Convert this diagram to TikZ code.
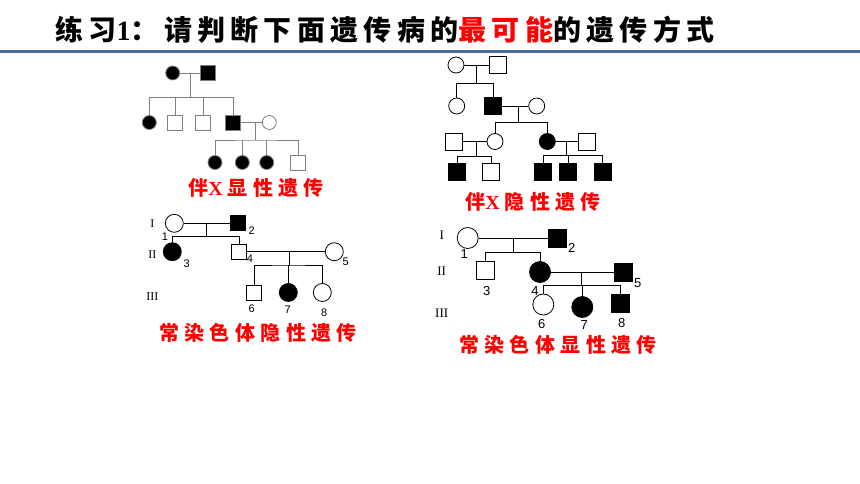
\documentclass[tikz,border=0pt]{standalone}
\usepackage{fontspec}
\setmainfont{Liberation Serif}
\newfontfamily\cjktitle{Noto Sans CJK SC}[LetterSpace=19]
\newfontfamily\cjkwide{Noto Sans CJK SC}[LetterSpace=26]
\newfontfamily\cjkmid{Noto Sans CJK SC}[LetterSpace=27]
\newfontfamily\numfont{Liberation Sans}
\usetikzlibrary{positioning}
\definecolor{rulebl}{HTML}{4A6A9A}

\begin{document}
\begin{tikzpicture}[x=1pt,y=-1pt,thick,
  fem/.style={circle,draw,inner sep=0pt,minimum size=14pt},
  mal/.style={rectangle,draw,inner sep=0pt,minimum size=15pt},
  ill/.style={fill=black},
  num/.style={font=\numfont\fontsize{11}{11}\selectfont,inner sep=0pt},
  gen/.style={font=\rmfamily\fontsize{12}{12}\selectfont,inner sep=0pt},
  kind/.style={text=red,inner sep=0pt,font=\bfseries\fontsize{20}{20}\selectfont}]

  \useasboundingbox (0,0) rectangle (860,484);

  % title and rule
  \node[anchor=west,inner sep=0pt,font=\bfseries\fontsize{28}{28}\selectfont] (title) at (55,30)
    {\cjktitle 练习{\rmfamily 1}：请判断下面遗传病的{\color{red}最可能}的遗传方式};
  \fill[rulebl] (0,50.3) rectangle (860,53);

  % X dominant
  \begin{scope}[every path/.style={draw=gray}]
  \node[fem,ill] (a1) at (172.7,73) {};
  \node[mal,ill] (a2) at (208,73) {};
  \coordinate (m1) at (190,73);
  \coordinate (s1) at (190,97.7);
  \node[fem,ill] (b1) at (149.3,122.5) {};
  \node[mal] (b2) at (175,122.5) {};
  \node[mal] (b3) at (203.3,122.5) {};
  \node[mal,ill] (b4) at (233.3,122.5) {};
  \node[fem] (b5) at (269.3,122.5) {};
  \coordinate (m2) at (255,122.5);
  \coordinate (s2) at (255,140);
  \node[fem,ill] (c1) at (215,162.5) {};
  \node[fem,ill] (c2) at (242.3,162.5) {};
  \node[fem,ill] (c3) at (266.7,162.5) {};
  \node[mal] (c4) at (298.3,162.5) {};
  \end{scope}
  \path[gray]
    (a1) edge (a2)
    (m1) edge (s1)
    (b4) edge (b5)
    (m2) edge (s2);
  \draw[gray] (b1) |- (s1) -| (b4);
  \draw[gray] (b2) -- (b2 |- s1);
  \draw[gray] (b3) -- (b3 |- s1);
  \draw[gray] (c1) |- (s2) -| (c4);
  \draw[gray] (c2) -- (c2 |- s2);
  \draw[gray] (c3) -- (c3 |- s2);
  \node[kind] (xdom) at (256,188) {\cjkwide 伴{\rmfamily X}\hspace{5pt}显性遗传};

  % X recessive
  \begin{scope}[fem/.append style={minimum size=16pt},mal/.append style={minimum size=17pt}]
  \node[fem] (d1) at (456,65) {};
  \node[mal] (d2) at (498.3,65) {};
  \coordinate (m3) at (476,65);
  \coordinate (s3) at (476,83.3);
  \node[fem] (e1) at (456.7,106) {};
  \node[mal,ill] (e2) at (493.3,106) {};
  \node[fem] (e3) at (536.7,106) {};
  \coordinate (m4) at (518.3,106);
  \coordinate (s4) at (518.3,122.5);
  \node[mal] (f1) at (454,141.5) {};
  \node[fem] (f2) at (495,141.5) {};
  \node[fem,ill] (f3) at (547.3,141.5) {};
  \node[mal] (f4) at (586.7,141.5) {};
  \coordinate (m5) at (476,141.5);
  \coordinate (s5) at (476,156.7);
  \coordinate (m6) at (566,141.5);
  \coordinate (s6) at (566,155.5);
  \node[mal,ill] (g1) at (457,171.5) {};
  \node[mal] (g2) at (491,171.5) {};
  \node[mal,ill] (g3) at (543.3,171.5) {};
  \node[mal,ill] (g4) at (568.3,171.5) {};
  \node[mal,ill] (g5) at (602.7,171.5) {};
  \end{scope}
  \path
    (d1) edge (d2)
    (m3) edge (s3)
    (e2) edge (e3)
    (m4) edge (s4)
    (f1) edge (f2)
    (m5) edge (s5)
    (f3) edge (f4)
    (m6) edge (s6);
  \draw (e1) |- (s3) -| (e2);
  \draw (f2) |- (s4) -| (f3);
  \draw (g1) |- (s5) -| (g2);
  \draw (g3) |- (s6) -| (g5);
  \draw (g4) -- (g4 |- s6);
  \node[kind] (xrec) at (533,202) {\cjkwide 伴{\rmfamily X}\hspace{5pt}隐性遗传};

  % autosomal recessive
  \begin{scope}[fem/.append style={minimum size=18pt}]
  \node[gen] (r1) at (152.3,223.3) {I};
  \node[gen] (r2) at (152.3,255) {II};
  \node[gen] (r3) at (152.3,296.7) {III};
  \node[fem] (h1) at (174.3,223.3) {};
  \node[mal,ill] (h2) at (237.7,223.3) {};
  \coordinate (m7) at (206,223.3);
  \coordinate (s7) at (206,236.7);
  \node[fem,ill] (i3) at (172.3,251.7) {};
  \node[mal] (i4) at (239,251.7) {};
  \node[fem] (i5) at (334.3,251.7) {};
  \coordinate (m8) at (289,251.7);
  \coordinate (s8) at (289,265);
  \node[mal] (j6) at (254.3,292.5) {};
  \node[fem,ill] (j7) at (288.3,292.5) {};
  \node[fem] (j8) at (322.3,292.5) {};
  \end{scope}
  \node[num] (n1) at (165,236.7) {1};
  \node[num] (n2) at (251.7,231) {2};
  \node[num] (n3) at (186.7,263.3) {3};
  \node[num] (n4) at (250,258.3) {4};
  \node[num] (n5) at (345.7,261.7) {5};
  \node[num] (n6) at (251.7,308.3) {6};
  \node[num] (n7) at (287.7,310) {7};
  \node[num] (n8) at (324.3,312.3) {8};
  \path
    (h1) edge (h2)
    (m7) edge (s7)
    (i4) edge (i5)
    (m8) edge (s8);
  \draw (i3) |- (s7) -| (i4);
  \draw (j6) |- (s8) -| (j8);
  \draw (j7) -- (j7 |- s8);
  \node[kind] (arec) at (258,333) {\cjkmid 常染色体隐性遗传};

  % autosomal dominant
  \begin{scope}[fem/.append style={minimum size=21pt},mal/.append style={minimum size=18pt},
    gen/.append style={font=\rmfamily\fontsize{13}{13}\selectfont},
    num/.append style={font=\numfont\fontsize{13}{13}\selectfont}]
  \node[gen] (q1) at (441.7,235.7) {I};
  \node[gen] (q2) at (441.7,271.7) {II};
  \node[gen] (q3) at (441.7,313.3) {III};
  \node[fem] (k1) at (467.7,238) {};
  \node[mal,ill] (k2) at (557.3,238) {};
  \coordinate (m9) at (513.3,238);
  \coordinate (s9) at (513.3,252.3);
  \node[mal] (l3) at (485,270) {};
  \node[fem,ill] (l4) at (540,272) {};
  \node[mal,ill] (l5) at (623.3,272) {};
  \coordinate (m10) at (581.7,272);
  \coordinate (s10) at (581.7,285.7);
  \node[fem] (o6) at (543.3,304.5) {};
  \node[fem,ill] (o7) at (582.3,307) {};
  \node[mal,ill] (o8) at (620,303.5) {};
  \node[num] (p1) at (464.3,254.3) {1};
  \node[num] (p2) at (571.7,248.3) {2};
  \node[num] (p3) at (486.7,291) {3};
  \node[num] (p4) at (535,291) {4};
  \node[num] (p5) at (637.7,282.7) {5};
  \node[num] (p6) at (541.7,324.3) {6};
  \node[num] (p7) at (584.3,325) {7};
  \node[num] (p8) at (621.7,323.3) {8};
  \end{scope}
  \path
    (k1) edge (k2)
    (m9) edge (s9)
    (l4) edge (l5)
    (m10) edge (s10);
  \draw (l3) |- (s9) -| (l4);
  \draw (o6) |- (s10) -| (o8);
  \draw (o7) -- (o7 |- s10);
  \node[kind] (adom) at (558,345) {\cjkmid 常染色体显性遗传};
\end{tikzpicture}
\end{document}
